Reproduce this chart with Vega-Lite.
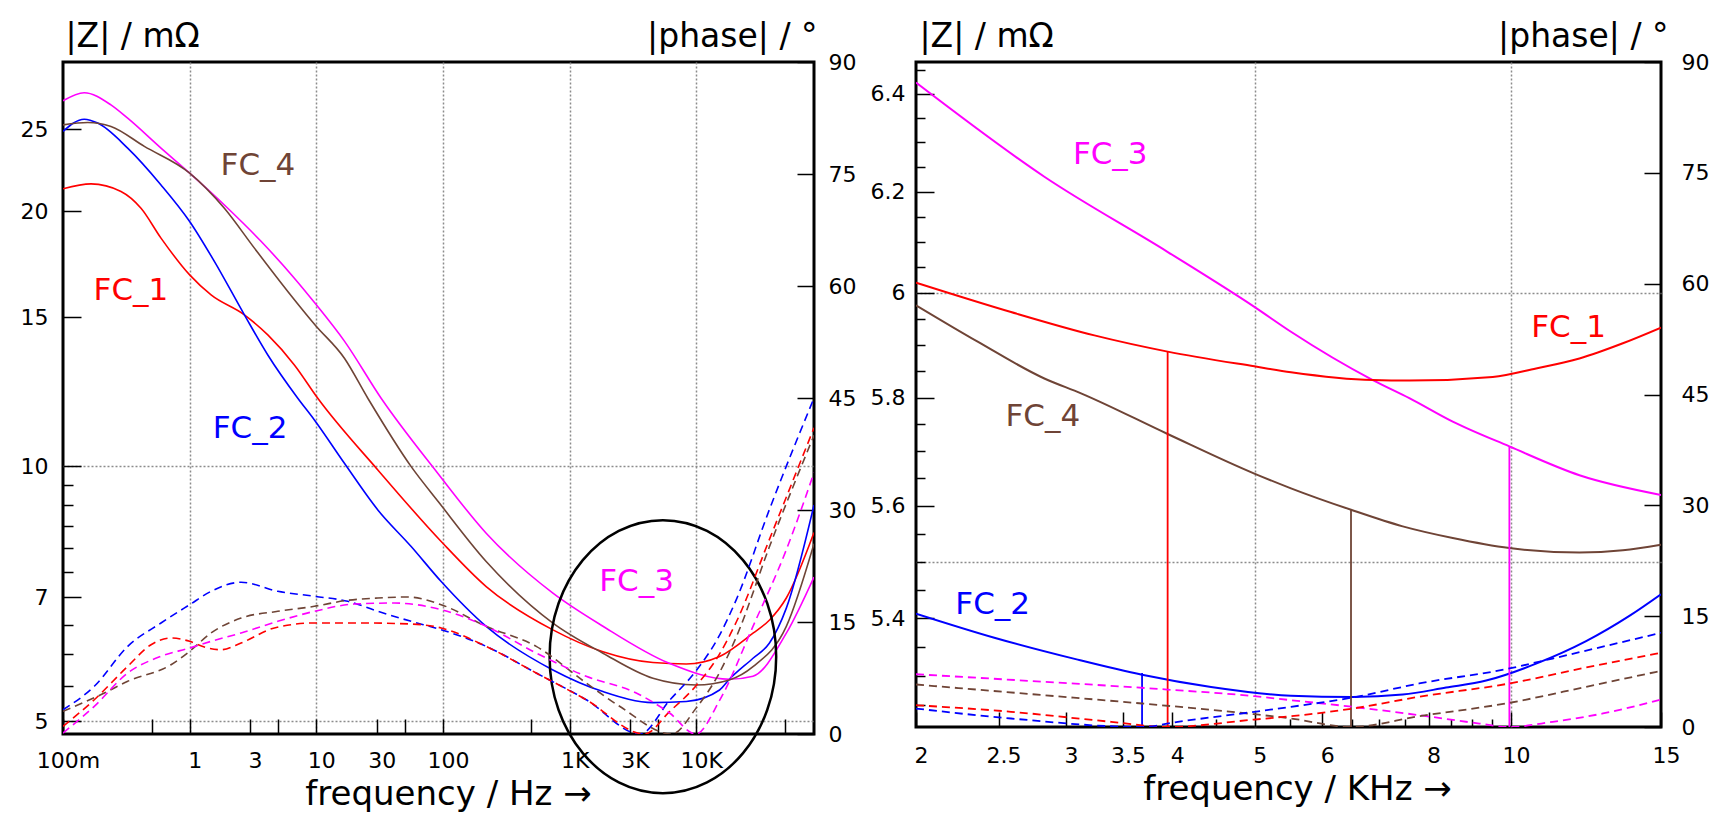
{
  "$schema": "https://vega.github.io/schema/vega-lite/v6.json",
  "background": "white",
  "padding": {"left": 18, "top": 18, "right": 5, "bottom": 5},
  "config": {
    "view": {"stroke": "#000", "strokeWidth": 3},
    "font": "DejaVu Sans",
    "axis": {"labelFont": "DejaVu Sans", "labelFontSize": 22, "labelColor": "#000", "titleFont": "DejaVu Sans", "titleFontSize": 33, "titleFontWeight": "normal", "titleColor": "#000", "tickColor": "#000", "tickWidth": 1.5, "domain": false, "gridColor": "#8c8c8c", "gridDash": [2, 2], "gridWidth": 1.5, "labelOverlap": false, "labelBound": false}
  },
  "datasets": {
    "leftZ": [
      {"s":"FC_1","f":0.1,"z":21.26},{"s":"FC_1","f":0.1665,"z":21.54},{"s":"FC_1","f":0.287,"z":21.10},{"s":"FC_1","f":0.413,"z":20.16},{"s":"FC_1","f":0.594,"z":18.59},{"s":"FC_1","f":1.0,"z":16.82},{"s":"FC_1","f":1.476,"z":15.93},{"s":"FC_1","f":2.705,"z":15.09},{"s":"FC_1","f":4.14,"z":14.29},{"s":"FC_1","f":6.71,"z":13.17},{"s":"FC_1","f":10.27,"z":12.03},{"s":"FC_1","f":30.6,"z":9.90},{"s":"FC_1","f":96.8,"z":8.15},{"s":"FC_1","f":219.4,"z":7.21},{"s":"FC_1","f":738,"z":6.41},{"s":"FC_1","f":1832,"z":6.04},{"s":"FC_1","f":4550,"z":5.865},{"s":"FC_1","f":8337,"z":5.843},{"s":"FC_1","f":15280,"z":5.962},{"s":"FC_1","f":28040,"z":6.352},{"s":"FC_1","f":37720,"z":6.58},{"s":"FC_1","f":51400,"z":6.99},{"s":"FC_1","f":85000,"z":8.35},
      {"s":"FC_2","f":0.1,"z":24.85},{"s":"FC_2","f":0.147,"z":25.68},{"s":"FC_2","f":0.188,"z":25.41},{"s":"FC_2","f":0.324,"z":23.74},{"s":"FC_2","f":0.594,"z":21.48},{"s":"FC_2","f":1.0,"z":19.45},{"s":"FC_2","f":1.567,"z":17.45},{"s":"FC_2","f":2.705,"z":15.09},{"s":"FC_2","f":4.14,"z":13.53},{"s":"FC_2","f":7.14,"z":12.03},{"s":"FC_2","f":9.66,"z":11.34},{"s":"FC_2","f":16.67,"z":10.08},{"s":"FC_2","f":30.6,"z":8.88},{"s":"FC_2","f":56.1,"z":8.04},{"s":"FC_2","f":96.8,"z":7.31},{"s":"FC_2","f":219.4,"z":6.47},{"s":"FC_2","f":738,"z":5.748},{"s":"FC_2","f":1832,"z":5.42},{"s":"FC_2","f":4550,"z":5.26},{"s":"FC_2","f":8337,"z":5.276},{"s":"FC_2","f":15280,"z":5.444},{"s":"FC_2","f":18230,"z":5.604},{"s":"FC_2","f":28040,"z":5.934},{"s":"FC_2","f":37720,"z":6.18},{"s":"FC_2","f":51400,"z":6.80},{"s":"FC_2","f":85000,"z":9.0},
      {"s":"FC_3","f":0.1,"z":27.0},{"s":"FC_3","f":0.147,"z":27.6},{"s":"FC_3","f":0.239,"z":26.7},{"s":"FC_3","f":0.324,"z":25.75},{"s":"FC_3","f":0.594,"z":23.74},{"s":"FC_3","f":1.0,"z":22.18},{"s":"FC_3","f":2.0,"z":20.16},{"s":"FC_3","f":3.66,"z":18.43},{"s":"FC_3","f":6.71,"z":16.67},{"s":"FC_3","f":9.78,"z":15.57},{"s":"FC_3","f":16.67,"z":14.05},{"s":"FC_3","f":32.5,"z":12.03},{"s":"FC_3","f":88.4,"z":9.865},{"s":"FC_3","f":219.4,"z":8.336},{"s":"FC_3","f":738,"z":7.083},{"s":"FC_3","f":1832,"z":6.474},{"s":"FC_3","f":6118,"z":5.853},{"s":"FC_3","f":18230,"z":5.604},{"s":"FC_3","f":28040,"z":5.651},{"s":"FC_3","f":51400,"z":6.352},{"s":"FC_3","f":85000,"z":7.4},
      {"s":"FC_4","f":0.1,"z":25.29},{"s":"FC_4","f":0.1567,"z":25.45},{"s":"FC_4","f":0.2393,"z":25.18},{"s":"FC_4","f":0.4387,"z":23.85},{"s":"FC_4","f":1.0,"z":22.18},{"s":"FC_4","f":1.88,"z":20.16},{"s":"FC_4","f":3.245,"z":18.09},{"s":"FC_4","f":5.955,"z":16.08},{"s":"FC_4","f":9.78,"z":14.68},{"s":"FC_4","f":16.67,"z":13.41},{"s":"FC_4","f":25.5,"z":12.03},{"s":"FC_4","f":56.1,"z":9.99},{"s":"FC_4","f":92,"z":9.08},{"s":"FC_4","f":219.4,"z":7.72},{"s":"FC_4","f":738,"z":6.53},{"s":"FC_4","f":1832,"z":6.016},{"s":"FC_4","f":4550,"z":5.619},{"s":"FC_4","f":10000,"z":5.518},{"s":"FC_4","f":18230,"z":5.594},{"s":"FC_4","f":28040,"z":5.80},{"s":"FC_4","f":51400,"z":6.47},{"s":"FC_4","f":85000,"z":8.1}
    ],
    "leftP": [
      {"s":"FC_2","f":0.1,"p":3.25},{"s":"FC_2","f":0.1767,"p":6.39},{"s":"FC_2","f":0.3245,"p":11.74},{"s":"FC_2","f":0.594,"p":14.87},{"s":"FC_2","f":1.0,"p":17.32},{"s":"FC_2","f":1.476,"p":19.11},{"s":"FC_2","f":2.547,"p":20.32},{"s":"FC_2","f":4.966,"p":19.11},{"s":"FC_2","f":9.66,"p":18.44},{"s":"FC_2","f":17.74,"p":17.77},{"s":"FC_2","f":30.6,"p":16.43},{"s":"FC_2","f":56.1,"p":15.09},{"s":"FC_2","f":96.8,"p":13.97},{"s":"FC_2","f":219.4,"p":11.74},{"s":"FC_2","f":544.8,"p":8.17},{"s":"FC_2","f":1352,"p":4.59},{"s":"FC_2","f":3600,"p":0},{"s":"FC_2","f":6152,"p":4.5},{"s":"FC_2","f":10000,"p":8.5},{"s":"FC_2","f":15000,"p":13},{"s":"FC_2","f":20700,"p":18},{"s":"FC_2","f":37660,"p":30},{"s":"FC_2","f":85000,"p":45},
      {"s":"FC_1","f":0.1,"p":1.03},{"s":"FC_1","f":0.1767,"p":4.59},{"s":"FC_1","f":0.3245,"p":9.07},{"s":"FC_1","f":0.4956,"p":11.96},{"s":"FC_1","f":0.7128,"p":12.86},{"s":"FC_1","f":1.0,"p":12.41},{"s":"FC_1","f":1.306,"p":11.65},{"s":"FC_1","f":1.77,"p":11.29},{"s":"FC_1","f":2.547,"p":12.19},{"s":"FC_1","f":4.667,"p":14.2},{"s":"FC_1","f":9.66,"p":14.87},{"s":"FC_1","f":22.59,"p":14.87},{"s":"FC_1","f":56.1,"p":14.73},{"s":"FC_1","f":96.8,"p":14.2},{"s":"FC_1","f":219.4,"p":11.74},{"s":"FC_1","f":544.8,"p":8.17},{"s":"FC_1","f":1352,"p":4.59},{"s":"FC_1","f":3900,"p":0},{"s":"FC_1","f":6152,"p":3.0},{"s":"FC_1","f":10000,"p":6.5},{"s":"FC_1","f":15000,"p":10.5},{"s":"FC_1","f":20700,"p":15},{"s":"FC_1","f":37660,"p":26},{"s":"FC_1","f":85000,"p":41},
      {"s":"FC_4","f":0.1,"p":3.04},{"s":"FC_4","f":0.212,"p":5.49},{"s":"FC_4","f":0.3245,"p":7.06},{"s":"FC_4","f":0.7128,"p":9.28},{"s":"FC_4","f":1.0,"p":11.08},{"s":"FC_4","f":1.476,"p":13.53},{"s":"FC_4","f":2.547,"p":15.53},{"s":"FC_4","f":4.966,"p":16.43},{"s":"FC_4","f":9.66,"p":17.1},{"s":"FC_4","f":17.74,"p":17.91},{"s":"FC_4","f":30.6,"p":18.21},{"s":"FC_4","f":52.8,"p":18.35},{"s":"FC_4","f":96.8,"p":17.32},{"s":"FC_4","f":219.4,"p":14.42},{"s":"FC_4","f":544.8,"p":11.74},{"s":"FC_4","f":1352,"p":6.83},{"s":"FC_4","f":2479,"p":3.71},{"s":"FC_4","f":6400,"p":0},{"s":"FC_4","f":10000,"p":3.5},{"s":"FC_4","f":15000,"p":8},{"s":"FC_4","f":20700,"p":13},{"s":"FC_4","f":37660,"p":25},{"s":"FC_4","f":85000,"p":40},
      {"s":"FC_3","f":0.1,"p":0.13},{"s":"FC_3","f":0.1767,"p":3.71},{"s":"FC_3","f":0.3245,"p":8.17},{"s":"FC_3","f":0.594,"p":10.41},{"s":"FC_3","f":1.0,"p":11.52},{"s":"FC_3","f":1.476,"p":12.41},{"s":"FC_3","f":2.547,"p":13.53},{"s":"FC_3","f":4.966,"p":15.09},{"s":"FC_3","f":9.66,"p":16.43},{"s":"FC_3","f":20.0,"p":17.41},{"s":"FC_3","f":41.4,"p":17.54},{"s":"FC_3","f":96.8,"p":16.65},{"s":"FC_3","f":219.4,"p":14.42},{"s":"FC_3","f":544.8,"p":10.85},{"s":"FC_3","f":1352,"p":7.73},{"s":"FC_3","f":3358,"p":5.49},{"s":"FC_3","f":6152,"p":2.81},{"s":"FC_3","f":9900,"p":0},{"s":"FC_3","f":15280,"p":4.5},{"s":"FC_3","f":28040,"p":14.42},{"s":"FC_3","f":51400,"p":24.68},{"s":"FC_3","f":85000,"p":35}
    ],
    "labelsL": [
      {"s":"FC_4","f":3.46,"z":22.6},{"s":"FC_1","f":0.344,"z":16.11},{"s":"FC_2","f":3.0,"z":11.07},{"s":"FC_3","f":3380,"z":7.30}
    ],
    "ellipseL": [{"f":5450,"z":5.96}],
    "rightZ": [
      {"s":"FC_3","f":2.0,"z":6.423},{"s":"FC_3","f":2.83,"z":6.230},{"s":"FC_3","f":3.952,"z":6.080},{"s":"FC_3","f":4.994,"z":5.973},{"s":"FC_3","f":5.514,"z":5.925},{"s":"FC_3","f":6.88,"z":5.833},{"s":"FC_3","f":7.594,"z":5.799},{"s":"FC_3","f":8.54,"z":5.755},{"s":"FC_3","f":9.954,"z":5.709},{"s":"FC_3","f":12.03,"z":5.656},{"s":"FC_3","f":15,"z":5.620},
      {"s":"FC_1","f":2.0,"z":6.020},{"s":"FC_1","f":2.586,"z":5.963},{"s":"FC_1","f":3.24,"z":5.918},{"s":"FC_1","f":3.95,"z":5.887},{"s":"FC_1","f":4.994,"z":5.859},{"s":"FC_1","f":5.514,"z":5.848},{"s":"FC_1","f":6.88,"z":5.833},{"s":"FC_1","f":7.594,"z":5.832},{"s":"FC_1","f":9.515,"z":5.839},{"s":"FC_1","f":10.7,"z":5.855},{"s":"FC_1","f":12.03,"z":5.874},{"s":"FC_1","f":13.53,"z":5.903},{"s":"FC_1","f":15,"z":5.933},
      {"s":"FC_4","f":2.0,"z":5.976},{"s":"FC_4","f":2.363,"z":5.906},{"s":"FC_4","f":2.83,"z":5.836},{"s":"FC_4","f":3.125,"z":5.808},{"s":"FC_4","f":3.95,"z":5.732},{"s":"FC_4","f":4.994,"z":5.659},{"s":"FC_4","f":5.514,"z":5.632},{"s":"FC_4","f":6.486,"z":5.593},{"s":"FC_4","f":7.46,"z":5.563},{"s":"FC_4","f":8.54,"z":5.542},{"s":"FC_4","f":9.954,"z":5.524},{"s":"FC_4","f":12.03,"z":5.516},{"s":"FC_4","f":13.53,"z":5.520},{"s":"FC_4","f":15,"z":5.530},
      {"s":"FC_2","f":2.0,"z":5.408},{"s":"FC_2","f":2.472,"z":5.366},{"s":"FC_2","f":3.097,"z":5.328},{"s":"FC_2","f":3.686,"z":5.302},{"s":"FC_2","f":4.442,"z":5.281},{"s":"FC_2","f":5.514,"z":5.266},{"s":"FC_2","f":6.516,"z":5.264},{"s":"FC_2","f":7.46,"z":5.268},{"s":"FC_2","f":8.388,"z":5.280},{"s":"FC_2","f":9.348,"z":5.292},{"s":"FC_2","f":10.7,"z":5.321},{"s":"FC_2","f":12.25,"z":5.360},{"s":"FC_2","f":13.77,"z":5.404},{"s":"FC_2","f":15,"z":5.442}
    ],
    "rightP": [
      {"s":"FC_3","f":2.0,"p":7.14},{"s":"FC_3","f":2.83,"p":6.12},{"s":"FC_3","f":3.944,"p":5.07},{"s":"FC_3","f":4.994,"p":4.17},{"s":"FC_3","f":5.514,"p":3.63},{"s":"FC_3","f":6.516,"p":2.73},{"s":"FC_3","f":7.8,"p":1.60},{"s":"FC_3","f":9.18,"p":0.47},{"s":"FC_3","f":9.95,"p":0},{"s":"FC_3","f":11.19,"p":0.70},{"s":"FC_3","f":12.82,"p":1.83},{"s":"FC_3","f":15,"p":3.72},
      {"s":"FC_4","f":2.0,"p":5.75},{"s":"FC_4","f":2.83,"p":4.30},{"s":"FC_4","f":3.686,"p":3.18},{"s":"FC_4","f":4.994,"p":1.73},{"s":"FC_4","f":5.514,"p":1.15},{"s":"FC_4","f":6.486,"p":0},{"s":"FC_4","f":7.8,"p":1.46},{"s":"FC_4","f":9.954,"p":3.27},{"s":"FC_4","f":12.25,"p":5.44},{"s":"FC_4","f":15,"p":7.60},
      {"s":"FC_1","f":2.0,"p":2.95},{"s":"FC_1","f":2.586,"p":2.06},{"s":"FC_1","f":3.39,"p":0.70},{"s":"FC_1","f":3.95,"p":0},{"s":"FC_1","f":4.994,"p":1.01},{"s":"FC_1","f":5.514,"p":1.46},{"s":"FC_1","f":6.516,"p":2.50},{"s":"FC_1","f":7.8,"p":4.09},{"s":"FC_1","f":9.954,"p":5.89},{"s":"FC_1","f":12.25,"p":8.05},{"s":"FC_1","f":15,"p":10.04},
      {"s":"FC_2","f":2.0,"p":2.50},{"s":"FC_2","f":2.586,"p":1.15},{"s":"FC_2","f":3.686,"p":0},{"s":"FC_2","f":4.06,"p":0.70},{"s":"FC_2","f":4.994,"p":2.06},{"s":"FC_2","f":5.514,"p":2.73},{"s":"FC_2","f":6.516,"p":3.99},{"s":"FC_2","f":7.8,"p":5.89},{"s":"FC_2","f":9.954,"p":7.92},{"s":"FC_2","f":11.19,"p":9.27},{"s":"FC_2","f":15,"p":12.75}
    ],
    "rulesR": [
      {"s":"FC_1","f":3.95,"z":5.887,"z0":5.213},{"s":"FC_2","f":3.686,"z":5.305,"z0":5.213},{"s":"FC_4","f":6.486,"z":5.593,"z0":5.213},{"s":"FC_3","f":9.954,"z":5.709,"z0":5.213}
    ],
    "labelsR": [
      {"s":"FC_3","f":3.382,"z":6.274},{"s":"FC_1","f":11.68,"z":5.933},{"s":"FC_4","f":2.818,"z":5.763},{"s":"FC_2","f":2.461,"z":5.423}
    ]
  },
  "spacing": 102,
  "bounds": "flush",
  "hconcat": [
    {
      "width": 751,
      "height": 672,
      "layer": [
        {
          "layer": [
            {
              "data": {"name": "leftZ"},
              "mark": {"type": "line", "strokeWidth": 1.6, "clip": true, "interpolate": "monotone"},
              "encoding": {
                "x": {"field": "f", "type": "quantitative", "scale": {"type": "log", "domain": [0.1, 85000], "nice": false},
                  "axis": {
                    "values": [0.1, 0.5, 1, 3, 5, 10, 30, 50, 100, 500, 1000, 3000, 5000, 10000, 50000],
                    "labelExpr": "datum.value == 0.1 ? '100m' : datum.value == 1000 ? '1K' : datum.value == 3000 ? '3K' : datum.value == 10000 ? '10K' : (indexof([1,3,10,30,100], datum.value) >= 0 ? datum.value + '' : '')",
                    "tickSize": -15, "labelPadding": 31, "labelOffset": 5, "labelFlush": false, "labelBaseline": "top",
                    "grid": true,
                    "gridOpacity": {"condition": {"test": "indexof([1,10,100,1000,10000], datum.value) >= 0", "value": 1}, "value": 0},
                    "title": "frequency  /  Hz →", "titleX": 385, "titleY": 70, "titleAlign": "center", "titleBaseline": "alphabetic", "titleFontSize": 34
                  }
                },
                "y": {"field": "z", "type": "quantitative", "scale": {"type": "log", "domain": [4.83, 30], "nice": false},
                  "axis": {
                    "values": [5, 5.5, 6, 6.5, 7, 7.5, 8, 8.5, 9, 9.5, 10, 15, 20, 25],
                    "labelExpr": "indexof([5,7,10,15,20,25], datum.value) >= 0 ? datum.value + '' : ''",
                    "tickSize": {"condition": {"test": "indexof([5,7,10,15,20,25], datum.value) >= 0", "value": -18}, "value": -10},
                    "labelPadding": 33,
                    "grid": true,
                    "gridOpacity": {"condition": {"test": "datum.value == 5 || datum.value == 10", "value": 1}, "value": 0},
                    "title": "|Z| /  mΩ", "titleAngle": 0, "titleX": 2, "titleY": -16, "titleAlign": "left", "titleBaseline": "alphabetic"
                  }
                },
                "color": {"field": "s", "type": "nominal", "scale": {"domain": ["FC_1", "FC_2", "FC_3", "FC_4"], "range": ["#ff0000", "#0000ff", "#ff00ff", "#6f4436"]}, "legend": null}
              }
            },
            {
              "data": {"name": "labelsL"},
              "mark": {"type": "text", "fontSize": 31, "font": "DejaVu Sans", "align": "center", "baseline": "middle"},
              "encoding": {
                "x": {"field": "f", "type": "quantitative"},
                "y": {"field": "z", "type": "quantitative"},
                "text": {"field": "s"},
                "color": {"field": "s", "type": "nominal", "scale": {"domain": ["FC_1", "FC_2", "FC_3", "FC_4"], "range": ["#ff0000", "#0000ff", "#ff00ff", "#6f4436"]}, "legend": null}
              }
            },
            {
              "data": {"name": "ellipseL"},
              "mark": {"type": "point", "shape": "M-0.83,0A0.83,1,0,1,1,0.83,0A0.83,1,0,1,1,-0.83,0Z", "size": 74529, "filled": false, "stroke": "#000", "strokeWidth": 2.5, "opacity": 1},
              "encoding": {
                "x": {"field": "f", "type": "quantitative"},
                "y": {"field": "z", "type": "quantitative"}
              }
            }
          ]
        },
        {
          "data": {"name": "leftP"},
          "mark": {"type": "line", "strokeWidth": 1.6, "strokeDash": [8, 5], "clip": true, "interpolate": "monotone"},
          "encoding": {
            "x": {"field": "f", "type": "quantitative"},
            "y": {"field": "p", "type": "quantitative", "scale": {"domain": [0, 90], "nice": false},
              "axis": {
                "orient": "right", "values": [0, 15, 30, 45, 60, 75, 90], "tickSize": -17, "labelPadding": 31, "grid": false,
                "title": "|phase| /   °", "titleAngle": 0, "titleX": 3, "titleY": -16, "titleAlign": "right", "titleBaseline": "alphabetic"
              }
            },
            "color": {"field": "s", "type": "nominal", "scale": {"domain": ["FC_1", "FC_2", "FC_3", "FC_4"], "range": ["#ff0000", "#0000ff", "#ff00ff", "#6f4436"]}, "legend": null}
          }
        }
      ],
      "resolve": {"scale": {"y": "independent"}}
    },
    {
      "width": 745,
      "height": 665,
      "layer": [
        {
          "layer": [
            {
              "data": {"name": "rightZ"},
              "mark": {"type": "line", "strokeWidth": 2, "clip": true, "interpolate": "monotone"},
              "encoding": {
                "x": {"field": "f", "type": "quantitative", "scale": {"type": "log", "domain": [2, 15], "nice": false},
                  "axis": {
                    "values": [2, 2.5, 3, 3.5, 4, 4.5, 5, 5.5, 6, 6.5, 7, 7.5, 8, 8.5, 9, 9.5, 10, 15],
                    "labelExpr": "indexof([2,2.5,3,3.5,4,5,6,8,10,15], datum.value) >= 0 ? datum.value + '' : ''",
                    "tickSize": {"condition": {"test": "indexof([2,2.5,3,3.5,4,5,6,8,10,15], datum.value) >= 0", "value": -15}, "value": -8},
                    "labelPadding": 33, "labelOffset": 5, "labelFlush": false, "labelBaseline": "top",
                    "grid": true,
                    "gridOpacity": {"condition": {"test": "datum.value == 5 || datum.value == 10", "value": 1}, "value": 0},
                    "title": "frequency  /  KHz →", "titleX": 381, "titleY": 72, "titleAlign": "center", "titleBaseline": "alphabetic", "titleFontSize": 34
                  }
                },
                "y": {"field": "z", "type": "quantitative", "scale": {"type": "log", "domain": [5.213, 6.466], "nice": false},
                  "axis": {
                    "values": [5.25, 5.3, 5.35, 5.4, 5.45, 5.5, 5.55, 5.6, 5.65, 5.7, 5.75, 5.8, 5.85, 5.9, 5.95, 6, 6.05, 6.1, 6.15, 6.2, 6.25, 6.3, 6.35, 6.4, 6.45],
                    "labelExpr": "indexof([5.4,5.6,5.8,6,6.2,6.4], datum.value) >= 0 ? datum.value + '' : ''",
                    "tickSize": {"condition": {"test": "indexof([5.4,5.6,5.8,6,6.2,6.4], datum.value) >= 0", "value": -18}, "value": -9},
                    "labelPadding": 29,
                    "grid": true,
                    "gridOpacity": {"condition": {"test": "datum.value == 5.5 || datum.value == 6", "value": 1}, "value": 0},
                    "title": "|Z| /  mΩ", "titleAngle": 0, "titleX": 3, "titleY": -16, "titleAlign": "left", "titleBaseline": "alphabetic"
                  }
                },
                "color": {"field": "s", "type": "nominal", "scale": {"domain": ["FC_1", "FC_2", "FC_3", "FC_4"], "range": ["#ff0000", "#0000ff", "#ff00ff", "#6f4436"]}, "legend": null}
              }
            },
            {
              "data": {"name": "rulesR"},
              "mark": {"type": "rule", "strokeWidth": 1.8, "clip": true},
              "encoding": {
                "x": {"field": "f", "type": "quantitative"},
                "y": {"field": "z", "type": "quantitative"},
                "y2": {"field": "z0"},
                "color": {"field": "s", "type": "nominal", "scale": {"domain": ["FC_1", "FC_2", "FC_3", "FC_4"], "range": ["#ff0000", "#0000ff", "#ff00ff", "#6f4436"]}, "legend": null}
              }
            },
            {
              "data": {"name": "labelsR"},
              "mark": {"type": "text", "fontSize": 31, "font": "DejaVu Sans", "align": "center", "baseline": "middle"},
              "encoding": {
                "x": {"field": "f", "type": "quantitative"},
                "y": {"field": "z", "type": "quantitative"},
                "text": {"field": "s"},
                "color": {"field": "s", "type": "nominal", "scale": {"domain": ["FC_1", "FC_2", "FC_3", "FC_4"], "range": ["#ff0000", "#0000ff", "#ff00ff", "#6f4436"]}, "legend": null}
              }
            }
          ]
        },
        {
          "data": {"name": "rightP"},
          "mark": {"type": "line", "strokeWidth": 1.8, "strokeDash": [8, 5], "clip": true, "interpolate": "monotone"},
          "encoding": {
            "x": {"field": "f", "type": "quantitative"},
            "y": {"field": "p", "type": "quantitative", "scale": {"domain": [0, 90], "nice": false},
              "axis": {
                "orient": "right", "values": [0, 15, 30, 45, 60, 75, 90], "tickSize": -17, "labelPadding": 37, "grid": false,
                "title": "|phase| /   °", "titleAngle": 0, "titleX": 7, "titleY": -16, "titleAlign": "right", "titleBaseline": "alphabetic"
              }
            },
            "color": {"field": "s", "type": "nominal", "scale": {"domain": ["FC_1", "FC_2", "FC_3", "FC_4"], "range": ["#ff0000", "#0000ff", "#ff00ff", "#6f4436"]}, "legend": null}
          }
        }
      ],
      "resolve": {"scale": {"y": "independent"}}
    }
  ]
}
